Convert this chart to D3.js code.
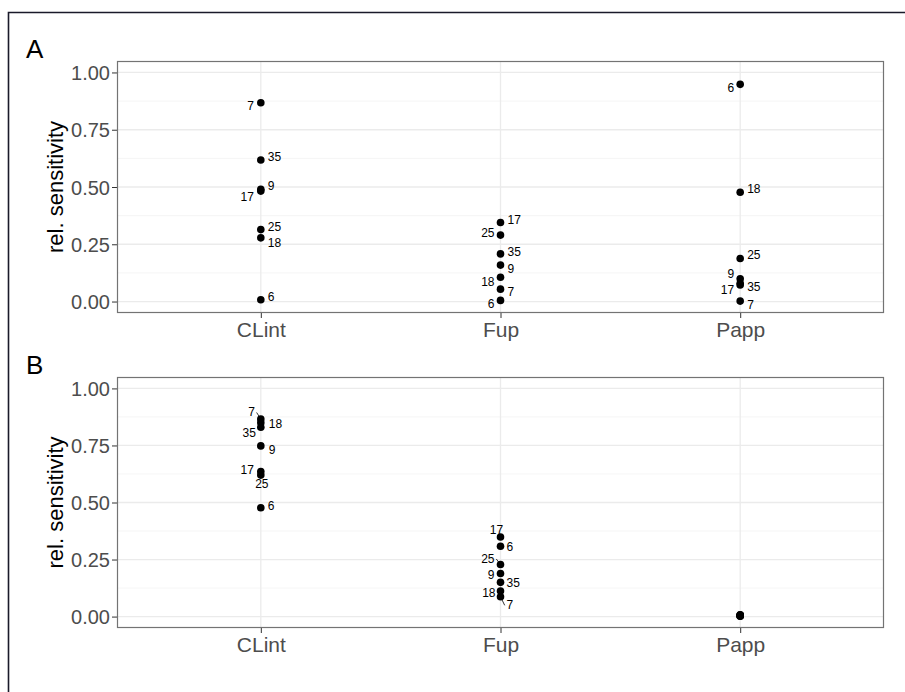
<!DOCTYPE html>
<html>
<head>
<meta charset="utf-8">
<script src="https://cdn.jsdelivr.net/npm/d3@7"></script>
<style>
  body { margin: 0; background: #fff; }
  svg { display: block; font-family: "Liberation Sans", Arial, sans-serif; }
</style>
</head>
<body>
<svg id="chart"></svg>
<script>
const WIDTH = 905;
const HEIGHT = 692;

// --- Data ---
const categories = ["CLint", "Fup", "Papp"];
const compounds = ["6", "7", "9", "17", "18", "25", "35"];
const yTicks = [0, 0.25, 0.5, 0.75, 1];
const yMinor = [0.125, 0.375, 0.625, 0.875];

// relative sensitivity per compound (same order as compounds)
const sensA_CLint = [0.008, 0.868, 0.490, 0.482, 0.278, 0.314, 0.618];
const sensA_Fup   = [0.005, 0.054, 0.159, 0.345, 0.106, 0.290, 0.208];
const sensA_Papp  = [0.948, 0.002, 0.099, 0.072, 0.477, 0.188, 0.080];
const sensB_CLint = [0.477, 0.866, 0.748, 0.636, 0.850, 0.620, 0.830];
const sensB_Fup   = [0.308, 0.087, 0.189, 0.349, 0.112, 0.228, 0.150];
const sensB_Papp  = [0.008, 0.002, 0.004, 0.006, 0.003, 0.005, 0.007];

// label placement (repel-like nudges, px): [dx, dy, anchor, leader]
const labelsA = {
  CLint: { "7": [-7, 7, "end"], "35": [7, 1.5, "start"], "9": [7, 1, "start"], "17": [-7, 10, "end"],
           "25": [7, 1, "start"], "18": [7, 9.5, "start"], "6": [7, 1.5, "start"] },
  Fup:   { "17": [7, 1, "start"], "25": [-6, 1.5, "end"], "35": [7, 1.7, "start"], "9": [7, 8, "start"],
           "18": [-6, 9, "end"], "7": [7, 7, "start"], "6": [-6, 8, "end"] },
  Papp:  { "6": [-6, 8, "end"], "18": [7, 0.6, "start"], "25": [7, 1, "start"], "9": [-6, -1, "end"],
           "35": [7, 7.5, "start"], "17": [-6, 9, "end"], "7": [7, 7.5, "start"] }
};
const labelsB = {
  CLint: { "7": [-6, -2.5, "end", true], "18": [8, 5, "start"], "35": [-5, 10, "end"], "9": [8, 8.3, "start"],
           "17": [-7, 2.3, "end"], "25": [1, 13, "middle"], "6": [7, 2, "start"] },
  Fup:   { "17": [-4, -3.4, "middle"], "6": [6, 4.7, "start"], "25": [-6, -1.6, "end", true], "9": [-6, 5.7, "end"],
           "35": [6, 4.4, "start"], "18": [-5, 5.7, "end"], "7": [6, 12.6, "start", true] },
  Papp:  {}
};

const panels = [
  { tag: "A", top: 61, bottom: 313, series: [sensA_CLint, sensA_Fup, sensA_Papp], labels: labelsA },
  { tag: "B", top: 377, bottom: 628, series: [sensB_CLint, sensB_Fup, sensB_Papp], labels: labelsB }
];

const LEFT = 117, RIGHT = 884;

const svg = d3.select("#chart")
  .attr("width", WIDTH)
  .attr("height", HEIGHT)
  .attr("viewBox", [0, 0, WIDTH, HEIGHT]);

// outer frame (only top and left visible)
svg.append("path")
  .attr("d", `M8.5,${HEIGHT}V12.5H${WIDTH}`)
  .attr("fill", "none")
  .attr("stroke", "#1a1a2a")
  .attr("stroke-width", 1.6);

const x = d3.scalePoint()
  .domain(categories)
  .range([LEFT, RIGHT])
  .padding(0.6);

panels.forEach(p => {
  // ggplot expansion: 5% on each side
  const span = p.bottom - p.top;
  const y = d3.scaleLinear()
    .domain([0, 1])
    .range([p.bottom - span / 22, p.top + span / 22]);

  const g = svg.append("g");

  // grid
  g.selectAll(".minor").data(yMinor).join("line")
    .attr("x1", LEFT).attr("x2", RIGHT)
    .attr("y1", d => y(d)).attr("y2", d => y(d))
    .attr("stroke", "#f2f2f2").attr("stroke-width", 0.8);
  g.selectAll(".major").data(yTicks).join("line")
    .attr("x1", LEFT).attr("x2", RIGHT)
    .attr("y1", d => y(d)).attr("y2", d => y(d))
    .attr("stroke", "#ebebeb").attr("stroke-width", 1.3);
  g.selectAll(".vmajor").data(categories).join("line")
    .attr("x1", d => x(d)).attr("x2", d => x(d))
    .attr("y1", p.top).attr("y2", p.bottom)
    .attr("stroke", "#ebebeb").attr("stroke-width", 1.3);

  // axes
  const yAxis = g.append("g")
    .attr("transform", `translate(${LEFT},0)`)
    .call(d3.axisLeft(y).tickValues(yTicks).tickFormat(d3.format(".2f")).tickSize(5).tickPadding(2));
  const xAxis = g.append("g")
    .attr("transform", `translate(0,${p.bottom})`)
    .call(d3.axisBottom(x).tickSize(5).tickPadding(3));
  [yAxis, xAxis].forEach(ax => {
    ax.select(".domain").remove();
    ax.selectAll("line").attr("stroke", "#333");
    ax.selectAll("text").attr("fill", "#4d4d4d").style("font-size", "20px")
      .style("font-family", "'Liberation Sans', Arial, sans-serif");
  });
  yAxis.selectAll("text").attr("dy", "0.36em");
  xAxis.selectAll("text").style("font-size", "21px").attr("dy", "0.75em");

  // panel border
  g.append("rect")
    .attr("x", LEFT + 0.5).attr("y", p.top + 0.5)
    .attr("width", RIGHT - LEFT - 1).attr("height", p.bottom - p.top - 1)
    .attr("fill", "none").attr("stroke", "#737373").attr("stroke-width", 1.2);

  // y title
  g.append("text")
    .attr("transform", `translate(63,${(p.top + p.bottom) / 2}) rotate(-90)`)
    .attr("text-anchor", "middle")
    .style("font-size", "22px")
    .attr("fill", "#000")
    .text("rel. sensitivity");

  // panel tag
  g.append("text")
    .attr("x", 26).attr("y", p.top - 3)
    .style("font-size", "26px")
    .attr("fill", "#000")
    .text(p.tag);

  // points and labels
  categories.forEach((cat, ci) => {
    const pts = compounds.map((id, i) => ({ id, value: p.series[ci][i] }));
    const cx = x(cat);
    const lab = p.labels[cat];

    pts.forEach(d => {
      const cfg = lab[d.id];
      if (cfg && cfg[3]) {
        const ly = y(d.value) + cfg[1] - 4;
        g.append("line")
          .attr("x1", cx).attr("y1", y(d.value))
          .attr("x2", cx + cfg[0] * 0.7).attr("y2", ly)
          .attr("stroke", "#000").attr("stroke-width", 0.8);
      }
    });

    g.selectAll(null).data(pts).join("circle")
      .attr("cx", cx)
      .attr("cy", d => y(d.value))
      .attr("r", 3.8)
      .attr("fill", "#000");

    g.selectAll(null).data(pts.filter(d => lab[d.id])).join("text")
      .attr("x", d => cx + lab[d.id][0])
      .attr("y", d => y(d.value) + lab[d.id][1])
      .attr("text-anchor", d => lab[d.id][2])
      .style("font-size", "12px")
      .attr("fill", "#000")
      .text(d => d.id);
  });
});
</script>
</body>
</html>
